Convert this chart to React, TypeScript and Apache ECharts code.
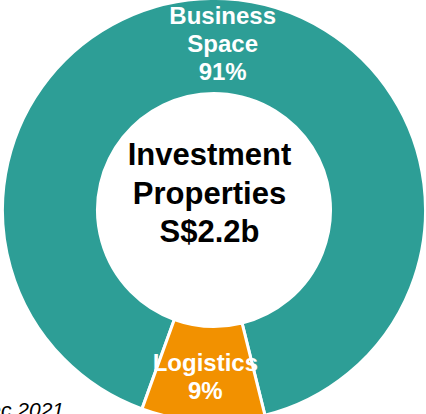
import React, { useEffect, useRef } from "react";
import * as echarts from "echarts";

const categories = ["Business\nSpace", "Logistics"];
const values = [90.6, 9.4];
const colors = ["#2d9e96", "#f29100"];
const centerLines = ["Investment", "Properties", "S$2.2b"];
const footnote = "As at 31 Dec 2021";

export default function App() {
  const ref = useRef<HTMLDivElement>(null);
  useEffect(() => {
    document.body.style.margin = "0";
    const chart = echarts.init(ref.current!, undefined, { renderer: "svg" });
    chart.setOption({
      animation: false,
      series: [
        {
          type: "pie",
          center: [214, 210],
          radius: [116.5, 211.5],
          startAngle: 250.1,
          clockwise: true,
          avoidLabelOverlap: false,
          itemStyle: { borderColor: "#ffffff", borderWidth: 3 },
          label: {
            show: true,
            position: "inside",
            color: "#ffffff",
            fontFamily: "Liberation Sans, Arial, sans-serif",
            fontWeight: "bold",
            fontSize: 24,
            lineHeight: 28,
            formatter: (p: any) => `${p.name}\n${Math.round(p.percent)}%`,
          },
          labelLine: { show: false },
          data: categories.map((c, i) => ({
            name: c,
            value: values[i],
            itemStyle: { color: colors[i] },
          })),
        },
      ],
      graphic: [
        {
          type: "text",
          x: 209.5,
          y: 193,
          style: {
            text: centerLines.join("\n"),
            fill: "#000000",
            fontFamily: "Liberation Sans, Arial, sans-serif",
            fontWeight: "bold",
            fontSize: 31,
            lineHeight: 38.5,
            align: "center",
            verticalAlign: "middle",
          },
        },
        {
          type: "text",
          x: 64,
          y: 409,
          style: {
            text: footnote,
            fill: "#000000",
            fontFamily: "Liberation Sans, Arial, sans-serif",
            fontStyle: "italic",
            fontSize: 21,
            align: "right",
            verticalAlign: "middle",
          },
        },
      ],
    });
    return () => chart.dispose();
  }, []);
  return <div ref={ref} style={{ width: 426, height: 414 }} />;
}
